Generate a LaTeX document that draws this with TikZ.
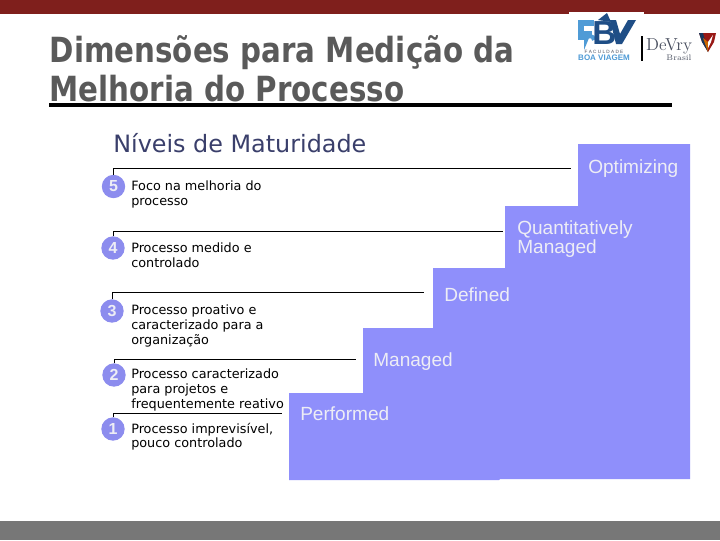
\documentclass[tikz,border=0pt]{standalone}
\usepackage{fontspec}
\setmainfont{DejaVu Sans}
\newfontfamily\titlefam[FakeStretch=0.846]{DejaVu Sans}
\newfontfamily\arialfam{Liberation Sans}
\definecolor{barred}{HTML}{7F1F1C}
\definecolor{footgray}{HTML}{777777}
\definecolor{stair}{HTML}{8F8FFB}
\definecolor{badgeblue}{HTML}{8C8CEE}
\definecolor{labelwhite}{HTML}{EDEDF5}
\definecolor{titlegray}{HTML}{5A5A5A}
\definecolor{subblue}{HTML}{3A3F6B}
\definecolor{logoblue}{HTML}{4F9BD6}
\definecolor{logonavy}{HTML}{1F4E86}
\definecolor{devry}{HTML}{4A5060}
\tikzset{
  x=0.75pt,y=-0.75pt,
  titletext/.style={anchor=base west,inner sep=0pt,text=titlegray,font=\titlefam\bfseries\fontsize{26}{26}\selectfont},
  desc/.style={anchor=north west,inner sep=0pt,align=left,text=black,font=\fontsize{9.6}{11.1}\selectfont},
  badge/.style={circle,fill=badgeblue,inner sep=0pt,minimum size=17.5,text=labelwhite,font=\arialfam\bfseries\fontsize{12}{12}\selectfont},
  rulel/.style={draw=black,line width=0.75pt},
  stairlabel/.style={anchor=base west,inner sep=0pt,align=left,text=labelwhite,font=\arialfam\fontsize{14.3}{14.25}\selectfont},
}
\begin{document}
\begin{tikzpicture}
\useasboundingbox (0,0) rectangle (720,540);
\fill[white] (0,0) rectangle (720,540);
\fill[barred] (0,0) rectangle (720,14);
\fill[footgray] (0,521) rectangle (720,540);
% logo
\fill[white] (569,12) rectangle (644,60);
\fill[logoblue] (578,20) rectangle (594,26);
\fill[logoblue] (578,20) rectangle (584,40);
\fill[logoblue] (578,31) rectangle (592,36);
\draw[logoblue,line width=3pt] (586,34) -- (586,40) arc[start angle=180,end angle=360,radius=4];
\node[inner sep=0pt,anchor=base west,text=logonavy] (logob) at (592,44) {\arialfam\bfseries\fontsize{25}{25}\selectfont B};
\fill[logonavy] (598,20) -- (607,13) -- (611,22) -- cycle;
\fill[logonavy] (610,20) -- (616,20) -- (620,34) -- (628,20) -- (636,20) -- (622,44) -- (616,44) -- cycle;
\node[inner sep=0pt,text=devry] (lf) at (604,52) {\arialfam\fontsize{3.5}{4}\selectfont F A C U L D A D E};
\node[inner sep=0pt,text=logoblue] (lv) at (604,58) {\arialfam\bfseries\fontsize{6}{6}\selectfont BOA VIAGEM};
\fill[black] (641,36) rectangle (643,61);
\node[inner sep=0pt,text=devry] (ld) at (669,46) {\fontfamily{lmr}\selectfont\fontsize{13}{13}\selectfont DeVry};
\node[inner sep=0pt,text=devry] (lb) at (679,58) {\fontfamily{lmr}\selectfont\fontsize{6}{6}\selectfont Brasil};
\fill[barred!80!red] (699,33) -- (716,33) -- (714,42) -- (708,52) -- (702,42) -- cycle;
\fill[logonavy!70!black] (699,33) -- (703,33) -- (708,52) -- (702,42) -- cycle;
\fill[orange!80!black] (703,38) -- (708,42) -- (708,52) -- cycle;
\fill[white] (708,42) -- (713,35) -- (711,42) -- (708,48) -- cycle;
% title
\node[titletext] (t1) at (49.5,62) {Dimensões para Medição da};
\node[titletext] (t2) at (49.5,101) {Melhoria do Processo};
\fill[black] (49,102.5) rectangle (672,107);
\node[anchor=base west,inner sep=0pt,text=subblue,font=\fontsize{17.9}{17.9}\selectfont] (sub) at (113,152) {Níveis de Maturidade};
% stairs
\fill[stair] (578,144) -- (690,144) -- (690,479) -- (500,479) -- (499,480) -- (289,480) -- (289,393) -- (363,393) -- (363,328) -- (433,328) -- (433,268) -- (505,268) -- (505,206) -- (578,206) -- cycle;
\node[stairlabel] (opt) at (588,173.5) {Optimizing};
\node[stairlabel] (qm) at (517,253.5) {Quantitatively\\Managed};
\node[stairlabel] (def) at (444,301.5) {Defined};
\node[stairlabel] (man) at (373,366.5) {Managed};
\node[stairlabel] (perf) at (300,420.5) {Performed};
% badges
\node[badge] (b5) at (113.5,186.5) {5};
\node[badge] (b4) at (113,248) {4};
\node[badge] (b3) at (112,311) {3};
\node[badge] (b2) at (114,375) {2};
\node[badge] (b1) at (113,429) {1};
% rules
\coordinate (e5) at (571,168.5);
\coordinate (e4) at (503,231);
\coordinate (e3) at (424,292.5);
\coordinate (e2) at (356,359);
\coordinate (e1) at (282,413.5);
\draw[rulel] (b5.north) -- (113.5,168.5) -- (e5);
\draw[rulel] (b4.north) -- (113,231) -- (e4);
\draw[rulel] (b3.north) -- (112,292.5) -- (e3);
\draw[rulel] (b2.north) -- (114,359) -- (e2);
\draw[rulel] (b1.north) -- (113,413.5) -- (e1);
% descriptions
\node[desc] (d5) at (131,181) {Foco na melhoria do\\processo};
\node[desc] (d4) at (131,242.5) {Processo medido e\\controlado};
\node[desc] (d3) at (131,304.5) {Processo proativo e\\caracterizado para a\\organização};
\node[desc] (d2) at (131,368.5) {Processo caracterizado\\para projetos e\\frequentemente reativo};
\node[desc] (d1) at (131,422.5) {Processo imprevisível,\\pouco controlado};
\end{tikzpicture}
\end{document}
